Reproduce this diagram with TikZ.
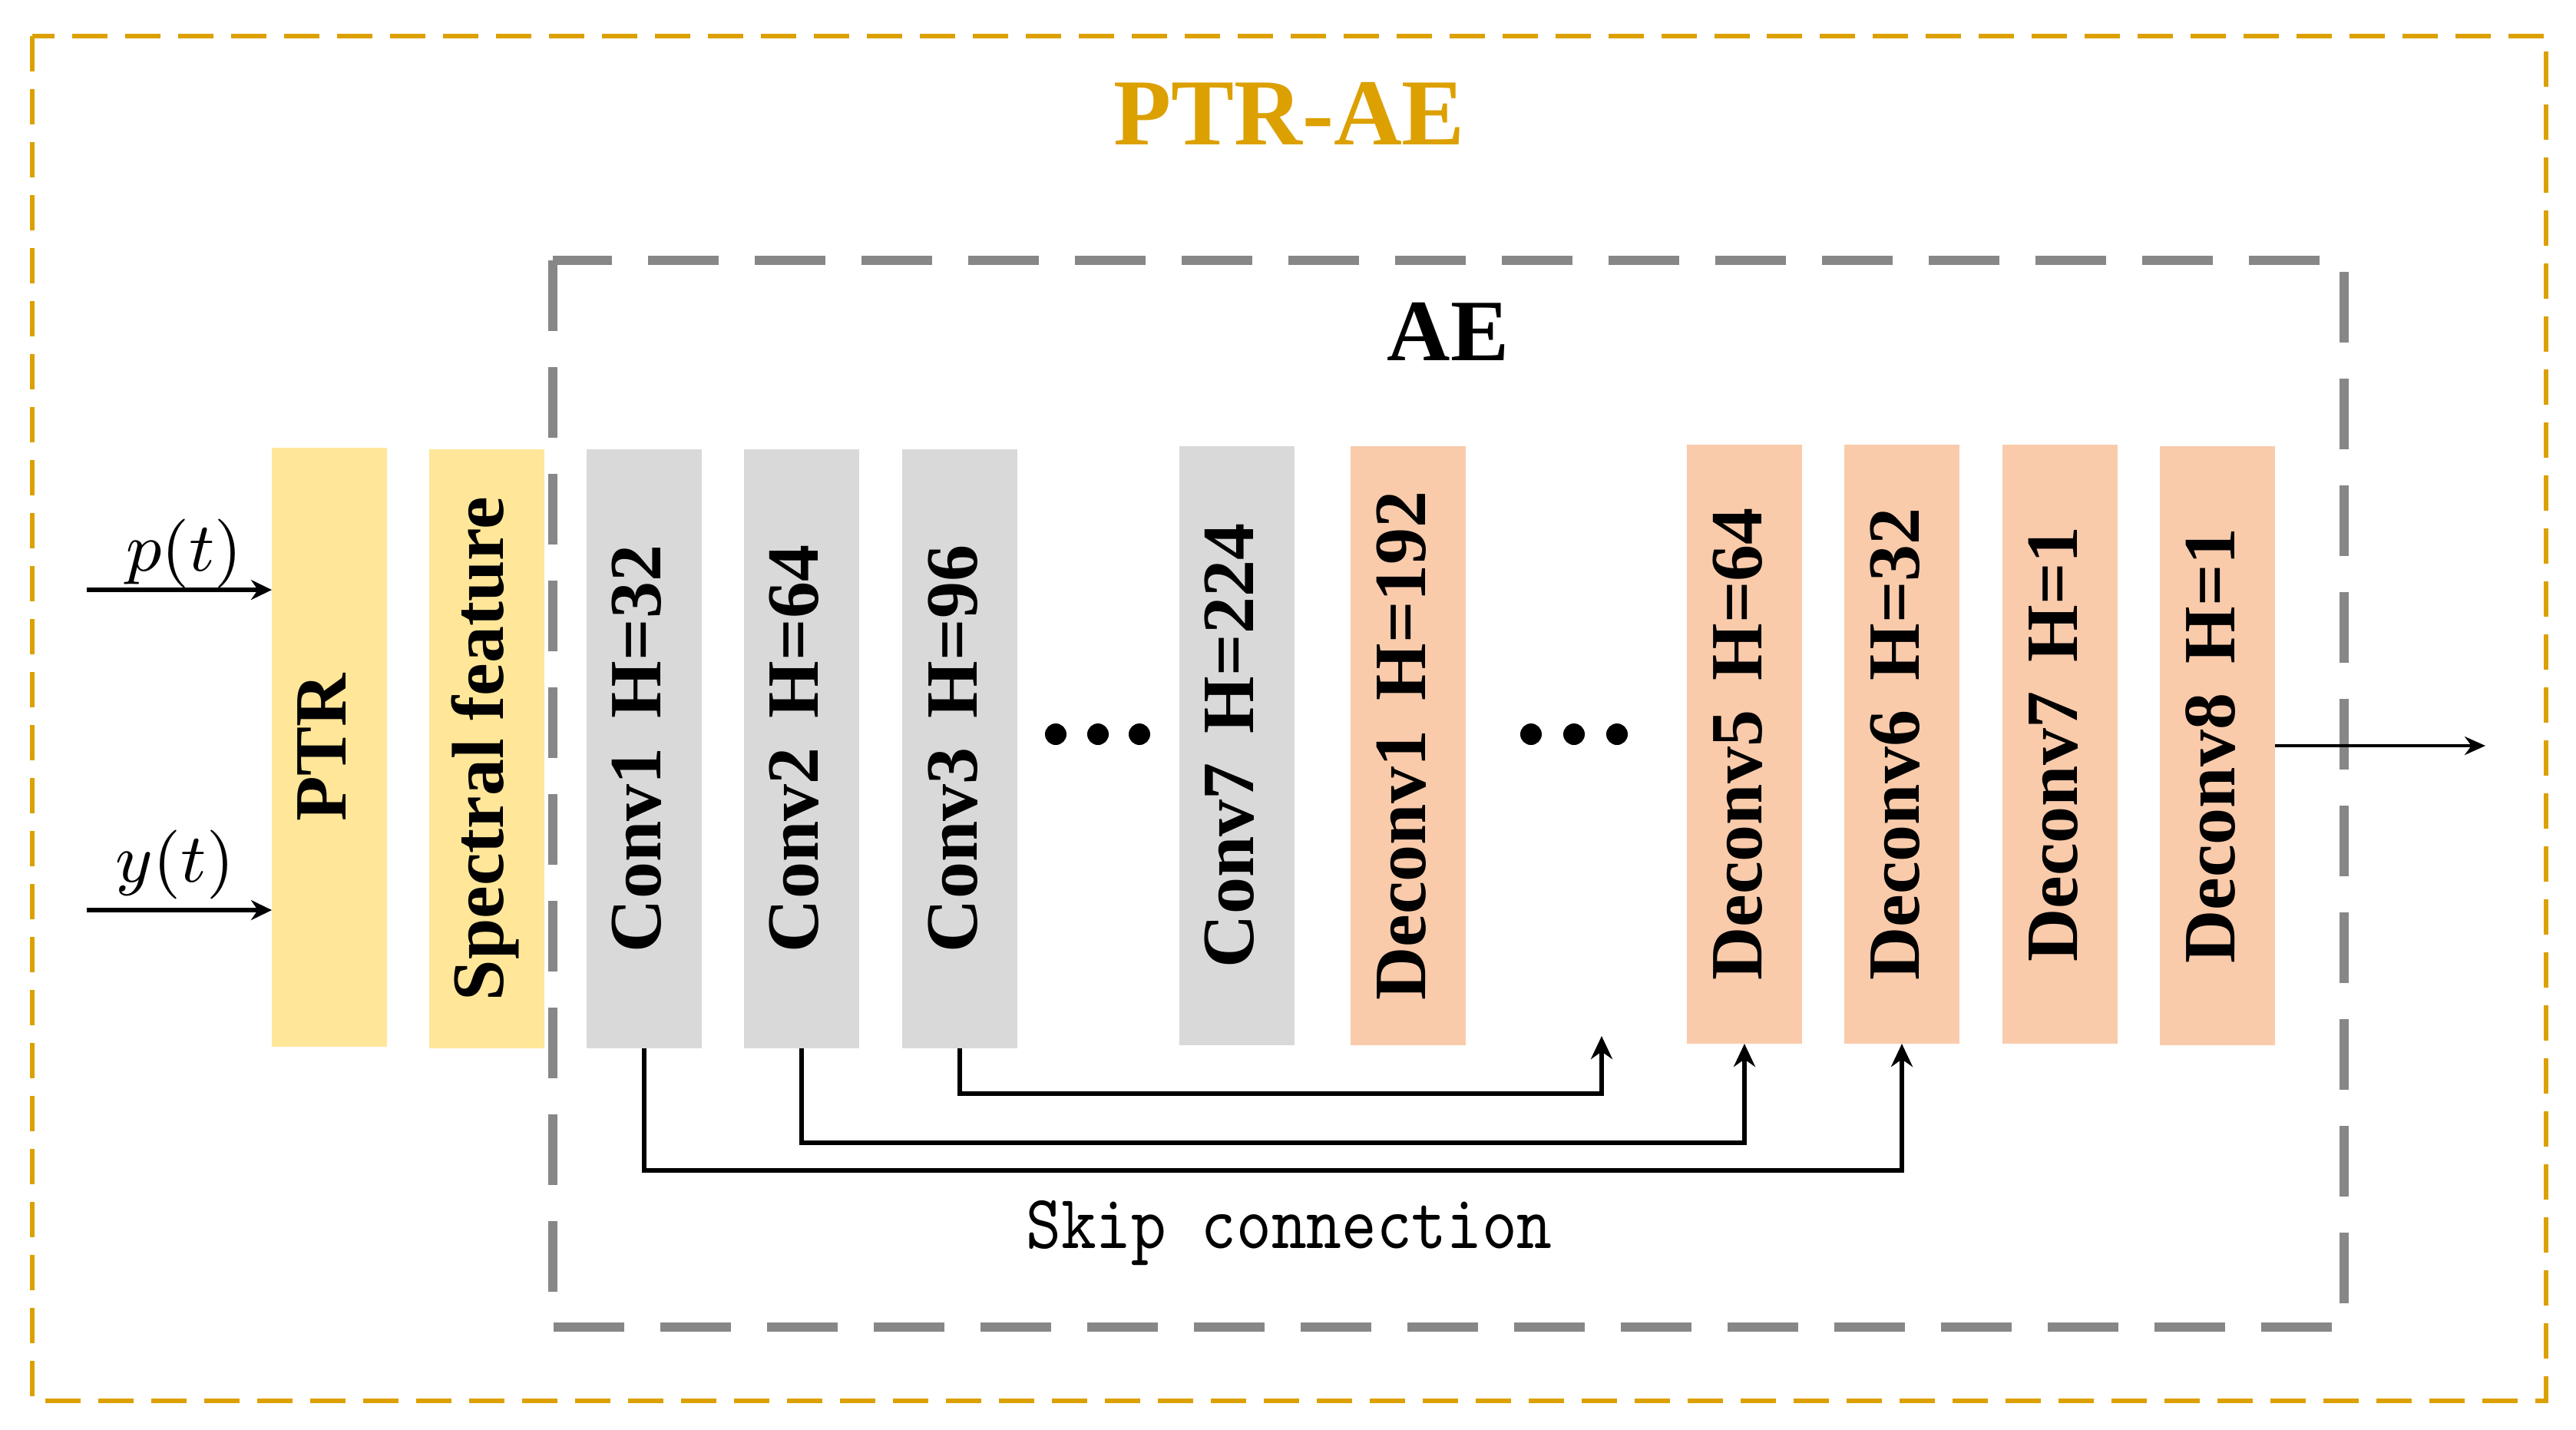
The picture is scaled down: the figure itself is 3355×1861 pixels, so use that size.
\documentclass[tikz,border=0pt]{standalone}
\usepackage{fontspec}
\setmainfont{Liberation Serif}
\usepackage{graphicx}
\usetikzlibrary{arrows.meta}
\definecolor{gold}{HTML}{DCA000}
\definecolor{framegray}{HTML}{878787}
\definecolor{ptryellow}{HTML}{FFE699}
\definecolor{convgray}{HTML}{D9D9D9}
\definecolor{decpeach}{HTML}{F9CBAB}
\begin{document}
\begin{tikzpicture}[x=0.1pt,y=-0.1pt,
  blk/.style={minimum width=15pt, minimum height=78pt, inner sep=0pt, outer sep=0pt,
    font=\fontsize{9.6}{11}\selectfont\bfseries},
  ylw/.style={blk, fill=ptryellow},
  gry/.style={blk, fill=convgray},
  pch/.style={blk, fill=decpeach},
  skiparrow/.style={line width=0.6pt, -{Stealth[length=3pt,width=2.8pt]}},
  inarrow/.style={line width=0.6pt, -{Stealth[length=2.7pt,width=2.6pt]}},
  outarrow/.style={line width=0.4pt, -{Stealth[length=2.7pt,width=2.4pt]}},
  dotnode/.style={circle, fill=black, inner sep=0pt, minimum size=2.8pt},
  vtext/.style={}]
\useasboundingbox (0,0) rectangle (3355,1861);
% frames
\draw[gold, line width=0.65pt, dash pattern=on 4.6pt off 2.3pt] (42,47) rectangle (3316,1824);
\draw[framegray, line width=1.15pt, dash pattern=on 9.2pt off 4.7pt] (720,339) rectangle (3053,1728);
% titles
\node[anchor=base, text=gold, font=\fontsize{12.3}{14}\selectfont\bfseries] (title) at (1679,188) {PTR-AE};
\node[anchor=base, font=\fontsize{11.4}{13}\selectfont\bfseries] (ae) at (1886,469) {AE};
% blocks
\node[ylw] (ptr) at (429,973) {\rotatebox{90}{\strut PTR}};
\node[ylw] (spec) at (634,975) {\rotatebox{90}{\strut Spectral feature}};
\node[gry] (c1) at (839,975) {\rotatebox{90}{\strut Conv1\hspace{0.4em}H=32}};
\node[gry] (c2) at (1044,975) {\rotatebox{90}{\strut Conv2\hspace{0.4em}H=64}};
\node[gry] (c3) at (1250,975) {\rotatebox{90}{\strut Conv3\hspace{0.4em}H=96}};
\node[gry] (c7) at (1611,971) {\rotatebox{90}{\strut Conv7\hspace{0.4em}H=224}};
\node[pch] (d1) at (1834,971) {\rotatebox{90}{\strut Deconv1\hspace{0.4em}H=192}};
\node[pch] (d5) at (2272,969) {\rotatebox{90}{\strut Deconv5\hspace{0.4em}H=64}};
\node[pch] (d6) at (2477,969) {\rotatebox{90}{\strut Deconv6\hspace{0.4em}H=32}};
\node[pch] (d7) at (2683,969) {\rotatebox{90}{\strut Deconv7\hspace{0.4em}H=1}};
\node[pch] (d8) at (2888,971) {\rotatebox{90}{\strut Deconv8\hspace{0.4em}H=1}};
% dots
\node[dotnode] (da) at (1375,956) {};
\node[dotnode] (db) at (1430,956) {};
\node[dotnode] (dc) at (1484,956) {};
\node[dotnode] (dd) at (1994,956) {};
\node[dotnode] (de) at (2050,956) {};
\node[dotnode] (df) at (2106,956) {};
% inputs
\coordinate (pin) at (113,768);
\coordinate (yin) at (113,1185);
\draw[inarrow] (pin) -- (pin -| ptr.west);
\draw[inarrow] (yin) -- (yin -| ptr.west);
\node[anchor=base, font=\fontsize{8.6}{10}\selectfont] (plbl) at (240,743) {$p(t)$};
\node[anchor=base, font=\fontsize{8.6}{10}\selectfont] (ylbl) at (228,1148) {$y(t)$};
% output
\coordinate (out) at (3237,971);
\draw[outarrow] (d8.east) -- (out);
% skip connections
\coordinate (h3) at (0,1424);
\coordinate (h2) at (0,1488);
\coordinate (h1) at (0,1524);
\coordinate (t3) at (2086,1349);
\draw[skiparrow] (c3.south) -- (c3.south |- h3) -| (t3);
\draw[skiparrow] (c2.south) -- (c2.south |- h2) -| (d5.south);
\draw[skiparrow] (c1.south) -- (c1.south |- h1) -| (d6.south);
\node[anchor=base, font=\fontsize{10}{12}\selectfont\ttfamily] (skiplbl) at (1679,1625) {\scalebox{0.87}[1]{Skip connection}};
\end{tikzpicture}
\end{document}
